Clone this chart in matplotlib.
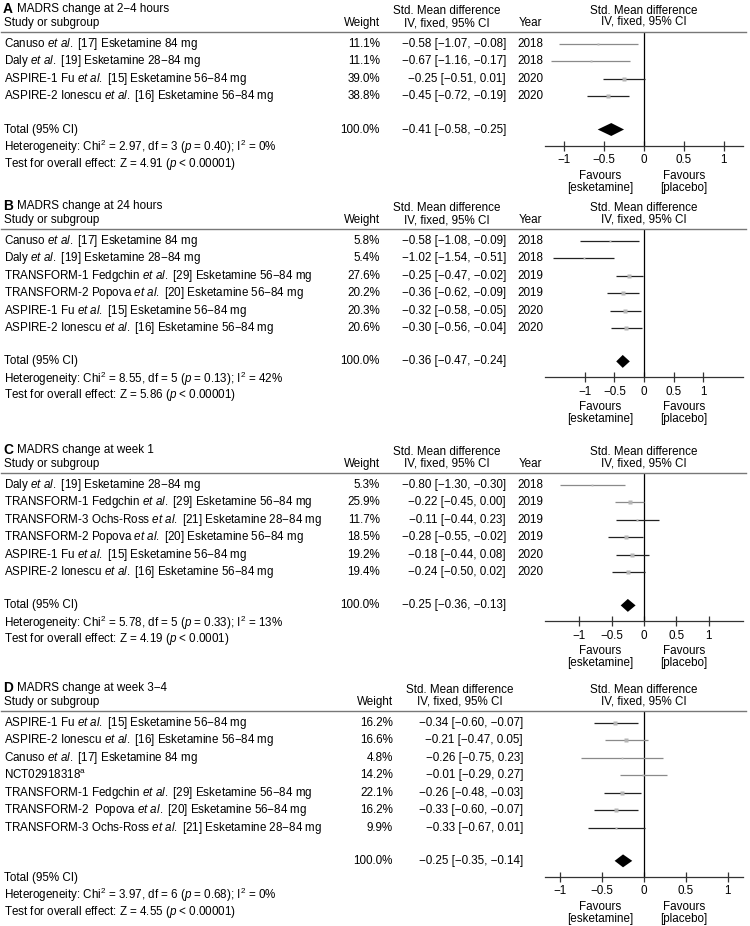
import matplotlib
matplotlib.use("Agg")
import matplotlib.pyplot as plt
from matplotlib.ticker import FixedLocator, FixedFormatter

plt.rcParams['font.family'] = ['Liberation Sans', 'DejaVu Sans']
plt.rcParams['mathtext.fontset'] = 'custom'
plt.rcParams['mathtext.rm'] = 'Liberation Sans'
plt.rcParams['mathtext.it'] = 'Liberation Sans:italic'
plt.rcParams['mathtext.bf'] = 'Liberation Sans:bold'

# ---------------- data ----------------
titles = ["MADRS change at 2\u22124 hours", "MADRS change at 24 hours",
          "MADRS change at week 1", "MADRS change at week 3\u22124"]
letters = ["A", "B", "C", "D"]

studies_A = ["Canuso et al. [17] Esketamine 84 mg",
             "Daly et al. [19] Esketamine 28\u221284 mg",
             "ASPIRE-1 Fu et al. [15] Esketamine 56\u221284 mg",
             "ASPIRE-2 Ionescu et al. [16] Esketamine 56\u221284 mg"]
weights_A = [11.1, 11.1, 39.0, 38.8]
smd_A = [-0.58, -0.67, -0.25, -0.45]
lo_A = [-1.07, -1.16, -0.51, -0.72]
hi_A = [-0.08, -0.17, 0.01, -0.19]
years_A = [2018, 2018, 2020, 2020]
total_A = [-0.41, -0.58, -0.25]
het_A = ["2.97", "3", "0.40", "0"]
z_A = ["4.91", "< 0.00001"]

studies_B = ["Canuso et al. [17] Esketamine 84 mg",
             "Daly et al. [19] Esketamine 28\u221284 mg",
             "TRANSFORM-1 Fedgchin et al. [29] Esketamine 56\u221284 mg",
             "TRANSFORM-2 Popova et al. [20] Esketamine 56\u221284 mg",
             "ASPIRE-1 Fu et al. [15] Esketamine 56\u221284 mg",
             "ASPIRE-2 Ionescu et al. [16] Esketamine 56\u221284 mg"]
weights_B = [5.8, 5.4, 27.6, 20.2, 20.3, 20.6]
smd_B = [-0.58, -1.02, -0.25, -0.36, -0.32, -0.30]
lo_B = [-1.08, -1.54, -0.47, -0.62, -0.58, -0.56]
hi_B = [-0.09, -0.51, -0.02, -0.09, -0.05, -0.04]
years_B = [2018, 2018, 2019, 2019, 2020, 2020]
total_B = [-0.36, -0.47, -0.24]
het_B = ["8.55", "5", "0.13", "42"]
z_B = ["5.86", "< 0.00001"]

studies_C = ["Daly et al. [19] Esketamine 28\u221284 mg",
             "TRANSFORM-1 Fedgchin et al. [29] Esketamine 56\u221284 mg",
             "TRANSFORM-3 Ochs-Ross et al. [21] Esketamine 28\u221284 mg",
             "TRANSFORM-2 Popova et al. [20] Esketamine 56\u221284 mg",
             "ASPIRE-1 Fu et al. [15] Esketamine 56\u221284 mg",
             "ASPIRE-2 Ionescu et al. [16] Esketamine 56\u221284 mg"]
weights_C = [5.3, 25.9, 11.7, 18.5, 19.2, 19.4]
smd_C = [-0.80, -0.22, -0.11, -0.28, -0.18, -0.24]
lo_C = [-1.30, -0.45, -0.44, -0.55, -0.44, -0.50]
hi_C = [-0.30, 0.00, 0.23, -0.02, 0.08, 0.02]
years_C = [2018, 2019, 2019, 2019, 2020, 2020]
total_C = [-0.25, -0.36, -0.13]
het_C = ["5.78", "5", "0.33", "13"]
z_C = ["4.19", "< 0.0001"]

studies_D = ["ASPIRE-1 Fu et al. [15] Esketamine 56\u221284 mg",
             "ASPIRE-2 Ionescu et al. [16] Esketamine 56\u221284 mg",
             "Canuso et al. [17] Esketamine 84 mg",
             "NCT02918318^a",
             "TRANSFORM-1 Fedgchin et al. [29] Esketamine 56\u221284 mg",
             "TRANSFORM-2  Popova et al. [20] Esketamine 56\u221284 mg",
             "TRANSFORM-3 Ochs-Ross et al. [21] Esketamine 28\u221284 mg"]
weights_D = [16.2, 16.6, 4.8, 14.2, 22.1, 16.2, 9.9]
smd_D = [-0.34, -0.21, -0.26, -0.01, -0.26, -0.33, -0.33]
lo_D = [-0.60, -0.47, -0.75, -0.29, -0.48, -0.60, -0.67]
hi_D = [-0.07, 0.05, 0.23, 0.27, -0.03, -0.07, 0.01]
years_D = None
total_D = [-0.25, -0.35, -0.14]
het_D = ["3.97", "6", "0.68", "0"]
z_D = ["4.55", "< 0.00001"]

tick_values = [-1, -0.5, 0, 0.5, 1]
tick_labels = ["\u22121", "\u22120.5", "0", "0.5", "1"]

# ---------------- styles / layout ----------------
ci_grey_A = [True, True, False, False]
ci_grey_B = [False] * 6
ci_grey_C = [True, True, False, False, False, False]
ci_grey_D = [False, True, True, True, False, False, False]

W, H = 750, 926
FS = 8.4
SP = 17.45

fig = plt.figure(figsize=(W / 100, H / 100), dpi=100)
fig.patch.set_facecolor("white")


def fx(x):
    return x / W


def fy(y):
    return 1 - y / H


def fmt(v):
    return f"{v:.2f}".replace("-", "\u2212")


def smd_text(e, l, h):
    return f"{fmt(e)} [{fmt(l)}, {fmt(h)}]"


def study_label(s):
    s = s.replace("et al.", r"$\mathit{et\ al.}$")
    s = s.replace("^a", r"$^{\mathrm{a}}$")
    return s


def txt(x, y, s, ha="left", **kw):
    fig.text(fx(x), fy(y), s, ha=ha, va="center", fontsize=kw.pop("fontsize", FS), **kw)


panels = [
    dict(studies=studies_A, w=weights_A, e=smd_A, lo=lo_A, hi=hi_A, yr=years_A,
         tot=total_A, het=het_A, z=z_A, grey=ci_grey_A,
         row0=44, half=1.24, smd_r=506, smd_c=447, w_r=380, tl_off=0),
    dict(studies=studies_B, w=weights_B, e=smd_B, lo=lo_B, hi=hi_B, yr=years_B,
         tot=total_B, het=het_B, z=z_B, grey=ci_grey_B,
         row0=241, half=1.675, smd_r=506, smd_c=447, w_r=380, tl_off=0),
    dict(studies=studies_C, w=weights_C, e=smd_C, lo=lo_C, hi=hi_C, yr=years_C,
         tot=total_C, het=het_C, z=z_C, grey=ci_grey_C,
         row0=485, half=1.53, smd_r=506, smd_c=447, w_r=380, tl_off=0),
    dict(studies=studies_D, w=weights_D, e=smd_D, lo=lo_D, hi=hi_D, yr=years_D,
         tot=total_D, het=het_D, z=z_D, grey=ci_grey_D,
         row0=723, half=1.18, smd_r=523, smd_c=460, w_r=393, tl_off=17),
]

AX_L, AX_R = 545, 743

for letter, title, p in zip(letters, titles, panels):
    r0 = p["row0"]
    n = len(p["studies"])
    y_title = r0 - 35
    y_hdr = r0 - 21
    y_line = r0 - 12
    r_tot = n + 0.9
    y_tot = r0 + r_tot * SP
    y_axis = y_tot + 16

    # titles and headers
    txt(3, y_title, letter, fontweight="bold", fontsize=FS + 1.5)
    txt(17, y_title, title)
    txt(4, y_hdr, "Study or subgroup")
    txt(p["w_r"], y_hdr, "Weight", ha="right")
    txt(p["smd_c"], y_title + 2, "Std. Mean difference", ha="center")
    txt(p["smd_c"], y_hdr, "IV, fixed, 95% CI", ha="center")
    if p["yr"] is not None:
        txt(530, y_hdr, "Year", ha="center")
    txt((AX_L + AX_R) / 2, y_title + 2, "Std. Mean difference", ha="center")
    txt((AX_L + AX_R) / 2, y_hdr - 1, "IV, fixed, 95% CI", ha="center")
    fig.add_artist(plt.Line2D([fx(1), fx(746)], [fy(y_line), fy(y_line)],
                              color="#777777", lw=1.0))

    # rows
    for i in range(n):
        y = r0 + i * SP
        txt(4, y, study_label(p["studies"][i]))
        txt(p["w_r"], y, f"{p['w'][i]:.1f}%", ha="right")
        txt(p["smd_r"], y, smd_text(p["e"][i], p["lo"][i], p["hi"][i]), ha="right")
        if p["yr"] is not None:
            txt(530, y, str(p["yr"][i]), ha="center")

    # totals
    txt(p["w_r"], y_tot, "100.0%", ha="right")
    txt(p["smd_r"], y_tot, smd_text(*p["tot"]), ha="right")
    y_tl = y_tot + p["tl_off"]
    txt(4, y_tl, "Total (95% CI)")
    chi, df, pv, i2 = p["het"]
    txt(4, y_tl + 17, f"Heterogeneity: Chi$^2$ = {chi}, df = {df} ($\\mathit{{p}}$ = {pv}); I$^2$ = {i2}%")
    zv, zp = p["z"]
    txt(4, y_tl + 34, f"Test for overall effect: Z = {zv} ($\\mathit{{p}}$ {zp})")

    # forest axes
    ax = fig.add_axes([fx(AX_L), fy(y_axis), (AX_R - AX_L) / W, (y_axis - y_line) / H])
    ax.set_xlim(-p["half"], p["half"])
    ax.set_ylim((y_axis - r0) / SP, (y_line - r0) / SP)
    ax.patch.set_alpha(0)
    for s in ["top", "left", "right"]:
        ax.spines[s].set_visible(False)
    ax.spines["bottom"].set_color("#333333")
    ax.spines["bottom"].set_linewidth(0.9)
    ax.yaxis.set_visible(False)
    ax.xaxis.set_major_locator(FixedLocator(tick_values))
    ax.xaxis.set_major_formatter(FixedFormatter(tick_labels))
    ax.tick_params(axis="x", direction="inout", length=7, width=0.9, color="#333333",
                   labelsize=FS, pad=2.5)
    ax.axvline(0, color="black", lw=0.9)

    for i in range(n):
        c = "#8a8a8a" if p["grey"][i] else "#222222"
        ax.plot([p["lo"][i], p["hi"][i]], [i, i], color=c, lw=0.9, solid_capstyle="butt")
        ax.plot([p["e"][i]], [i], marker="s", linestyle="none",
                markersize=0.55 * (p["w"][i] ** 0.5), color="#b5b5b5", mec="none")

    te, tlo, thi = p["tot"]
    hh = 0.37
    ax.fill([tlo, te, thi, te], [r_tot, r_tot - hh, r_tot, r_tot + hh], color="black", lw=0)

    # favours labels
    for xc, l1, l2 in [(600, "Favours", "[esketamine]"), (684, "Favours", "[placebo]")]:
        txt(xc, y_axis + 30, l1, ha="center")
        txt(xc, y_axis + 42, l2, ha="center")

fig.savefig("out.png", dpi=100, facecolor="white")
